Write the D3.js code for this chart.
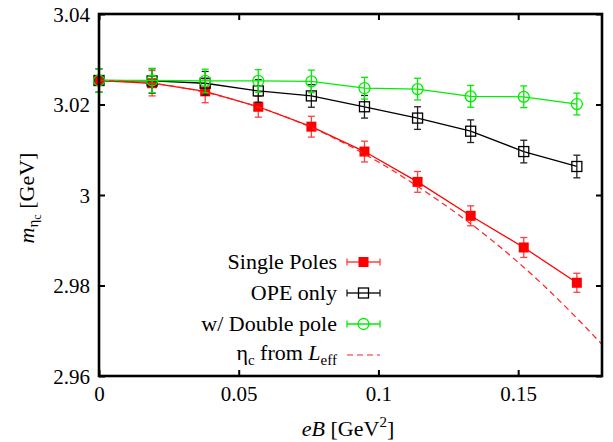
<!DOCTYPE html>
<html>
<head>
<meta charset="utf-8">
<script src="https://cdn.jsdelivr.net/npm/d3@7"></script>
<style>
  body { margin: 0; background: #fff; }
</style>
</head>
<body>
<svg id="svg" width="613" height="442"></svg>
<script>
const eB = [0, 0.019, 0.038, 0.057, 0.076, 0.095, 0.114, 0.133, 0.152, 0.171]

const singlePoles = [3.0253, 3.0247, 3.0229, 3.0195, 3.0151, 3.0096, 3.0029, 2.9954, 2.9884, 2.9806]
const singlePolesErr = [0.0026, 0.0028, 0.0025, 0.0023, 0.0023, 0.0023, 0.0023, 0.0022, 0.0022, 0.0021]

const opeOnly = [3.0253, 3.0252, 3.0247, 3.0230, 3.0219, 3.0195, 3.0170, 3.0141, 3.0096, 3.0063]
const opeOnlyErr = [0.0026, 0.0027, 0.0026, 0.0025, 0.0025, 0.0025, 0.0025, 0.0025, 0.0025, 0.0025]

const doublePole = [3.0253, 3.0253, 3.0252, 3.0252, 3.0251, 3.0236, 3.0234, 3.0218, 3.0217, 3.0201]
const doublePoleErr = [0.0026, 0.0027, 0.0026, 0.0025, 0.0025, 0.0024, 0.0024, 0.0024, 0.0024, 0.0024]

// dashed curve
const leffB = [0, 0.02, 0.04, 0.06, 0.08, 0.1, 0.12, 0.14, 0.16, 0.18]
const leffMass = [3.0253, 3.0246, 3.0224, 3.0188, 3.0138, 3.0073, 2.9994, 2.9903, 2.9795, 2.9670]

const xTicks = [0, 0.05, 0.1, 0.15]
const xTickLabels = ['0', '0.05', '0.1', '0.15']
const yTicks = [2.96, 2.98, 3, 3.02, 3.04]
const yTickLabels = ['2.96', '2.98', '3', '3.02', '3.04']

const plotLeft = 99
const plotRight = 602
const plotTop = 14
const plotBottom = 376
const serif = 'Liberation Serif'

const svg = d3.select('#svg')

const xScale = d3.scaleLinear().domain([0, 0.18]).range([plotLeft, plotRight])
const yScale = d3.scaleLinear().domain([2.96, 3.04]).range([plotBottom, plotTop])

// axes, ticks point inward
const xAxis = d3.axisBottom(xScale)
  .tickValues(xTicks)
  .tickFormat((d, i) => xTickLabels[i])
  .tickSizeInner(-6).tickSizeOuter(0)
const xAxisTop = d3.axisTop(xScale)
  .tickValues(xTicks).tickFormat('')
  .tickSizeInner(-6).tickSizeOuter(0)
const yAxis = d3.axisLeft(yScale)
  .tickValues(yTicks)
  .tickFormat((d, i) => yTickLabels[i])
  .tickSizeInner(-6).tickSizeOuter(0).tickPadding(9)
const yAxisRight = d3.axisRight(yScale)
  .tickValues(yTicks).tickFormat('')
  .tickSizeInner(-6).tickSizeOuter(0)

const styleAxis = (g) => {
  g.select('.domain').remove()
  g.selectAll('line').attr('stroke', '#000').attr('stroke-width', 2)
  g.selectAll('text').attr('fill', '#000')
    .attr('font-family', serif).attr('font-size', 21)
}

svg.append('g')
  .attr('transform', `translate(0, ${plotBottom})`)
  .call(xAxis)
  .call(styleAxis)
  .call(g => g.selectAll('text').attr('y', 25).attr('dy', null))

svg.append('g')
  .attr('transform', `translate(0, ${plotTop})`)
  .call(xAxisTop)
  .call(styleAxis)

svg.append('g')
  .attr('transform', `translate(${plotLeft}, 0)`)
  .call(yAxis)
  .call(styleAxis)
  .call(g => g.selectAll('text').attr('dy', '0.34em'))

svg.append('g')
  .attr('transform', `translate(${plotRight}, 0)`)
  .call(yAxisRight)
  .call(styleAxis)

const plot = svg.append('g')

const series = [
  { name: 'Single Poles', values: singlePoles, errs: singlePolesErr, color: '#ff0000', errColor: '#ff4040', marker: 'fsquare' },
  { name: 'OPE only', values: opeOnly, errs: opeOnlyErr, color: '#000000', errColor: '#202020', marker: 'osquare' },
  { name: 'w/ Double pole', values: doublePole, errs: doublePoleErr, color: '#00ee00', errColor: '#00ee00', marker: 'ocircle' }
]

const drawMarker = (g, type, x, y, color) => {
  if (type === 'fsquare') {
    g.append('rect').attr('x', x - 5).attr('y', y - 5).attr('width', 10).attr('height', 10)
      .attr('fill', color)
  } else if (type === 'osquare') {
    g.append('rect').attr('x', x - 5).attr('y', y - 5).attr('width', 10).attr('height', 10)
      .attr('fill', 'none').attr('stroke', color).attr('stroke-width', 1.3)
  } else {
    g.append('circle').attr('cx', x).attr('cy', y).attr('r', 5.5)
      .attr('fill', 'none').attr('stroke', color).attr('stroke-width', 1.3)
  }
}

const lineGen = d3.line()
  .x(d => xScale(d[0]))
  .y(d => yScale(d[1]))

series.forEach((s) => {
  const pts = eB.map((b, i) => [b, s.values[i]])
  plot.append('path')
    .attr('d', lineGen(pts))
    .attr('fill', 'none')
    .attr('stroke', s.color)
    .attr('stroke-width', 1.3)

  eB.forEach((b, i) => {
    const x = xScale(b)
    const y0 = yScale(s.values[i] - s.errs[i])
    const y1 = yScale(s.values[i] + s.errs[i])
    const eg = plot.append('g').attr('stroke', s.errColor).attr('stroke-width', 1.3)
    eg.append('line').attr('x1', x).attr('x2', x).attr('y1', y0).attr('y2', y1)
    eg.append('line').attr('x1', x - 3.5).attr('x2', x + 3.5).attr('y1', y0).attr('y2', y0)
    eg.append('line').attr('x1', x - 3.5).attr('x2', x + 3.5).attr('y1', y1).attr('y2', y1)
    drawMarker(plot, s.marker, x, yScale(s.values[i]), s.color)
  })
})

// eta_c from L_eff, dashed
plot.append('path')
  .attr('d', lineGen.curve(d3.curveMonotoneX)(leffB.map((b, i) => [b, leffMass[i]])))
  .attr('fill', 'none')
  .attr('stroke', '#ff2020')
  .attr('stroke-width', 1.2)
  .attr('stroke-dasharray', '6,4')

// frame
svg.append('rect')
  .attr('x', plotLeft).attr('y', plotTop)
  .attr('width', plotRight - plotLeft).attr('height', plotBottom - plotTop)
  .attr('fill', 'none').attr('stroke', '#000').attr('stroke-width', 2.6)

// legend
const legend = svg.append('g')
const rowY = [262, 293, 324, 355]
const textX = 337
const sx0 = 347
const sx1 = 380

series.forEach((s, i) => {
  const y = rowY[i]
  legend.append('text')
    .attr('x', textX).attr('y', y + 7)
    .attr('text-anchor', 'end')
    .attr('font-family', serif).attr('font-size', 22)
    .text(s.name)
  const g = legend.append('g').attr('stroke', s.errColor).attr('stroke-width', 1.3)
  g.append('line').attr('x1', sx0).attr('x2', sx1).attr('y1', y).attr('y2', y)
  g.append('line').attr('x1', sx0).attr('x2', sx0).attr('y1', y - 3.5).attr('y2', y + 3.5)
  g.append('line').attr('x1', sx1).attr('x2', sx1).attr('y1', y - 3.5).attr('y2', y + 3.5)
  drawMarker(legend, s.marker, (sx0 + sx1) / 2, y, s.color)
})

const leffText = legend.append('text')
  .attr('x', textX).attr('y', rowY[3] + 5)
  .attr('text-anchor', 'end')
  .attr('font-family', serif).attr('font-size', 22)
leffText.append('tspan').text('η')
leffText.append('tspan').attr('font-size', 15).attr('dy', 5).text('c')
leffText.append('tspan').attr('dy', -5).text(' from ')
leffText.append('tspan').attr('font-style', 'italic').text('L')
leffText.append('tspan').attr('font-size', 15).attr('dy', 5).text('eff')

legend.append('line')
  .attr('x1', sx0).attr('x2', sx1).attr('y1', rowY[3]).attr('y2', rowY[3])
  .attr('stroke', '#ff2020').attr('stroke-width', 1.2)
  .attr('stroke-dasharray', '6,4')

// axis titles
const xTitle = svg.append('text')
  .attr('x', 348).attr('y', 436)
  .attr('text-anchor', 'middle')
  .attr('font-family', serif).attr('font-size', 22)
xTitle.append('tspan').attr('font-style', 'italic').text('eB')
xTitle.append('tspan').text(' [GeV')
xTitle.append('tspan').attr('font-size', 15).attr('dy', -9).text('2')
xTitle.append('tspan').attr('dy', 9).text(']')

const yTitle = svg.append('text')
  .attr('transform', 'translate(34, 198) rotate(-90)')
  .attr('text-anchor', 'middle')
  .attr('font-family', serif).attr('font-size', 22)
yTitle.append('tspan').attr('font-style', 'italic').text('m')
yTitle.append('tspan').attr('font-size', 15).attr('dy', 4).text('η')
yTitle.append('tspan').attr('font-size', 12).attr('dy', 3).text('c')
yTitle.append('tspan').attr('dy', -7).text(' [GeV]')
</script>
</body>
</html>
